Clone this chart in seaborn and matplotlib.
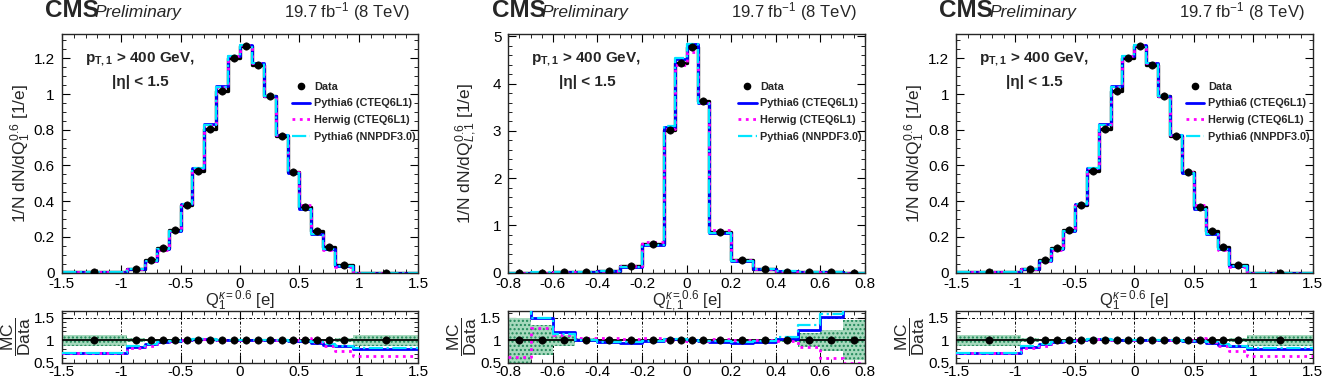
import numpy as np
import pandas as pd
import matplotlib
matplotlib.use("Agg")
import matplotlib.pyplot as plt
from matplotlib.lines import Line2D
from matplotlib.ticker import MultipleLocator, FuncFormatter
import seaborn as sns

# leading-jet charge Q_1 (left and right panels show the same distribution)
edges_q1 = [-1.5, -0.95, -0.8, -0.7, -0.6, -0.5, -0.4, -0.3, -0.2, -0.1, 0.0,
            0.1, 0.2, 0.3, 0.4, 0.5, 0.6, 0.7, 0.8, 0.95, 1.5]
data_q1 = [0.002, 0.022, 0.073, 0.138, 0.237, 0.381, 0.569, 0.804, 1.019, 1.204,
           1.267, 1.161, 0.987, 0.767, 0.564, 0.366, 0.231, 0.144, 0.041, 0.001]
pythia_q1 = [0.0015, 0.019, 0.067, 0.131, 0.233, 0.386, 0.586, 0.830, 1.043, 1.213,
             1.275, 1.176, 0.990, 0.769, 0.558, 0.355, 0.215, 0.130, 0.035, 0.0008]
herwig_q1 = [0.0015, 0.018, 0.064, 0.128, 0.236, 0.388, 0.584, 0.826, 1.040, 1.210,
             1.272, 1.172, 0.988, 0.772, 0.566, 0.380, 0.222, 0.125, 0.031, 0.0006]
nnpdf_q1 = [0.0014, 0.019, 0.066, 0.130, 0.232, 0.385, 0.585, 0.828, 1.041, 1.212,
            1.274, 1.175, 0.990, 0.770, 0.560, 0.357, 0.217, 0.131, 0.036, 0.0008]
ratio_pythia_q1 = [0.72, 0.85, 0.92, 0.96, 0.98, 1.0, 1.02, 1.02, 1.01, 1.0,
                   1.0, 1.0, 1.0, 1.0, 0.99, 0.98, 0.94, 0.90, 0.87, 0.81]
ratio_herwig_q1 = [0.72, 0.83, 0.88, 0.95, 0.99, 1.01, 1.02, 1.02, 1.01, 1.0,
                   1.0, 1.0, 1.0, 1.0, 1.0, 1.04, 0.96, 0.87, 0.76, 0.64]
ratio_nnpdf_q1 = [0.71, 0.86, 0.92, 0.96, 0.98, 1.0, 1.02, 1.02, 1.01, 1.0,
                  1.0, 1.0, 1.0, 1.0, 0.99, 0.98, 0.95, 0.91, 0.88, 0.83]
band_q1 = [0.12, 0.05, 0.03, 0.02, 0.015, 0.01, 0.01, 0.01, 0.01, 0.01,
           0.01, 0.01, 0.01, 0.01, 0.01, 0.015, 0.02, 0.03, 0.05, 0.12]

# leading-jet longitudinal charge Q_L,1 (middle panel)
edges_ql1 = [-0.8, -0.7, -0.6, -0.5, -0.4, -0.3, -0.2, -0.1, -0.05, 0.0,
             0.05, 0.1, 0.2, 0.3, 0.4, 0.5, 0.6, 0.7, 0.8]
data_ql1 = [0.002, 0.003, 0.005, 0.012, 0.03, 0.14, 0.60, 3.02, 4.43,
            4.78, 3.63, 0.87, 0.27, 0.085, 0.025, 0.01, 0.005, 0.002]
pythia_ql1 = [0.004, 0.0045, 0.006, 0.012, 0.029, 0.13, 0.59, 3.09, 4.53,
              4.84, 3.60, 0.84, 0.25, 0.081, 0.026, 0.012, 0.0076, 0.004]
herwig_ql1 = [0.0013, 0.0038, 0.0056, 0.0125, 0.031, 0.143, 0.64, 3.05, 4.39,
              4.66, 3.60, 0.90, 0.275, 0.086, 0.025, 0.0084, 0.003, 0.001]
nnpdf_ql1 = [0.004, 0.0046, 0.0065, 0.012, 0.029, 0.13, 0.59, 3.10, 4.54,
             4.83, 3.59, 0.84, 0.25, 0.082, 0.027, 0.013, 0.0079, 0.004]
ratio_pythia_ql1 = [1.9, 1.49, 1.18, 1.0, 0.95, 0.94, 0.98, 1.02, 1.02,
                    1.01, 0.99, 0.96, 0.93, 0.95, 1.02, 1.23, 1.51, 1.9]
ratio_herwig_ql1 = [0.63, 1.26, 1.11, 1.04, 1.04, 1.02, 1.05, 1.01, 0.99,
                    0.98, 0.99, 1.03, 1.0, 1.0, 0.99, 0.84, 0.61, 0.49]
ratio_nnpdf_ql1 = [1.9, 1.5, 1.14, 1.0, 0.96, 0.96, 0.98, 1.02, 1.02,
                   1.01, 0.99, 0.97, 0.95, 0.97, 1.07, 1.33, 1.57, 1.9]
band_ql1 = [0.5, 0.33, 0.12, 0.05, 0.03, 0.02, 0.02, 0.01, 0.01,
            0.01, 0.01, 0.015, 0.02, 0.03, 0.05, 0.15, 0.23, 0.45]

legend_labels = ["Data", "Pythia6 (CTEQ6L1)", "Herwig (CTEQ6L1)", "Pythia6 (NNPDF3.0)"]
mc_styles = [("#0000ff", "-", 2.0), ("#ff00ff", ":", 2.0), ("#00e5ff", "-.", 1.6)]

sns.set_style("ticks")
plt.rcParams["font.family"] = ["Liberation Sans", "DejaVu Sans"]
plt.rcParams["mathtext.fontset"] = "custom"
plt.rcParams["mathtext.rm"] = "Liberation Sans"
plt.rcParams["mathtext.it"] = "Liberation Sans:italic"
plt.rcParams["mathtext.bf"] = "Liberation Sans:bold"
plt.rcParams["hatch.linewidth"] = 1.0
plt.rcParams["axes.linewidth"] = 1.0
for a in ("xtick", "ytick"):
    plt.rcParams[a + ".direction"] = "in"
    plt.rcParams[a + ".major.size"] = 6
    plt.rcParams[a + ".minor.size"] = 3
    plt.rcParams[a + ".color"] = "black"
plt.rcParams["xtick.top"] = True
plt.rcParams["ytick.right"] = True

fmt = FuncFormatter(lambda v, p: "%g" % round(v, 3))


def step_hist(ax, centers, values, edges, **kws):
    df = pd.DataFrame({"x": centers, "w": values})
    sns.histplot(data=df, x="x", weights="w", bins=list(edges), element="step",
                 fill=False, ax=ax, **kws)


def draw_panel(fig, left, edges, data, mcs, ratios, band, xlabel, ylabel,
               ymax, xmaj, xmin_, ymaj, ymin_):
    w = 0.2697
    ax = fig.add_axes([left, 0.2747, w, 0.635])
    rax = fig.add_axes([left, 0.0354, w, 0.138])

    edges = np.array(edges)
    centers = (edges[:-1] + edges[1:]) / 2
    widths = np.diff(edges)

    # main panel: data histogram + MC histograms
    step_hist(ax, centers, data, edges, color="black", linewidth=2.4)
    for vals, (c, ls, lw) in zip(mcs, mc_styles):
        step_hist(ax, centers, vals, edges, color=c, linestyle=ls, linewidth=lw)
    sns.scatterplot(x=centers, y=data, color="black", s=28, edgecolor="black",
                    zorder=6, ax=ax)

    ax.set_xlim(edges[0], edges[-1])
    ax.set_ylim(0, ymax)
    ax.xaxis.set_major_locator(MultipleLocator(xmaj))
    ax.xaxis.set_minor_locator(MultipleLocator(xmin_))
    ax.yaxis.set_major_locator(MultipleLocator(ymaj))
    ax.yaxis.set_minor_locator(MultipleLocator(ymin_))
    ax.xaxis.set_major_formatter(fmt)
    ax.yaxis.set_major_formatter(fmt)
    ax.tick_params(labelsize=11, pad=3)
    ax.tick_params(axis="y", pad=5)
    ax.set_xlabel(xlabel, fontsize=12)
    ax.xaxis.set_label_coords(0.5, -0.065)
    ax.set_ylabel(ylabel, fontsize=12.5)
    ax.yaxis.set_label_coords(-0.082, 0.5)

    handles = [Line2D([], [], marker="o", color="black", ls="none", ms=4.5)]
    handles += [Line2D([], [], color=c, ls=ls, lw=lw) for c, ls, lw in mc_styles]
    ax.legend(handles, legend_labels, loc="upper left", bbox_to_anchor=(0.645, 0.80),
              frameon=False, prop={"weight": "bold", "size": 7.8},
              handlelength=1.7, handletextpad=0.35, labelspacing=0.62,
              borderaxespad=0, borderpad=0)

    ax.text(0.065, 0.884, r"p$_{\mathbf{T,1}}$ > 400 GeV,", transform=ax.transAxes,
            fontsize=11, fontweight="bold", va="baseline")
    ax.text(0.141, 0.782, "|η| < 1.5", transform=ax.transAxes,
            fontsize=11, fontweight="bold", va="baseline")
    ax.text(-0.047, 1.071, "CMS", transform=ax.transAxes, fontsize=17.5,
            fontweight="bold", va="baseline")
    ax.text(0.093, 1.071, "Preliminary", transform=ax.transAxes, fontsize=12.5,
            style="italic", va="baseline")
    ax.text(0.977, 1.071, r"19.7 fb$^{-1}$ (8 TeV)", transform=ax.transAxes,
            fontsize=12, ha="right", va="baseline")

    # ratio panel
    rax.bar(centers, 2 * np.array(band), bottom=1 - np.array(band), width=widths,
            facecolor="#a6d9bd", edgecolor="#21895a", hatch="....", linewidth=0,
            zorder=2)
    rax.axhline(1, color="black", lw=1.3, zorder=3)
    for vals, (c, ls, lw) in zip(ratios, mc_styles):
        step_hist(rax, centers, vals, edges, color=c, linestyle=ls, linewidth=lw,
                  zorder=4)
    sns.scatterplot(x=centers, y=np.ones(len(centers)), color="black", s=28,
                    edgecolor="black", zorder=6, ax=rax)
    rax.set_xlim(edges[0], edges[-1])
    rax.set_ylim(0.5, 1.65)
    rax.xaxis.set_major_locator(MultipleLocator(xmaj))
    rax.xaxis.set_minor_locator(MultipleLocator(xmin_))
    rax.yaxis.set_major_locator(MultipleLocator(0.5))
    rax.yaxis.set_minor_locator(MultipleLocator(0.1))
    rax.xaxis.set_major_formatter(fmt)
    rax.yaxis.set_major_formatter(fmt)
    rax.tick_params(labelsize=11, pad=2)
    rax.tick_params(axis="y", pad=5)
    rax.grid(True, which="major", color="black", linestyle=(0, (3, 2, 1, 2)),
             linewidth=0.7)
    rax.set_axisbelow(True)
    rax.set_xlabel("")
    rax.set_ylabel(r"$\dfrac{\mathrm{MC}}{\mathrm{Data}}$", fontsize=12.5)
    rax.yaxis.set_label_coords(-0.082, 0.5)


fig = plt.figure(figsize=(13.22, 3.76), dpi=100)

draw_panel(fig, 0.0467, edges_q1, data_q1, [pythia_q1, herwig_q1, nnpdf_q1],
           [ratio_pythia_q1, ratio_herwig_q1, ratio_nnpdf_q1], band_q1,
           r"Q$_{1}^{\kappa=0.6}$ [e]", r"1/N dN/dQ$_{1}^{0.6}$ [1/e]",
           1.336, 0.5, 0.1, 0.2, 0.05)
draw_panel(fig, 0.3845, edges_ql1, data_ql1, [pythia_ql1, herwig_ql1, nnpdf_ql1],
           [ratio_pythia_ql1, ratio_herwig_ql1, ratio_nnpdf_ql1], band_ql1,
           r"Q$_{L,1}^{\kappa=0.6}$ [e]", r"1/N dN/dQ$_{L,1}^{0.6}$ [1/e]",
           5.05, 0.2, 0.05, 1, 0.2)
draw_panel(fig, 0.7232, edges_q1, data_q1, [pythia_q1, herwig_q1, nnpdf_q1],
           [ratio_pythia_q1, ratio_herwig_q1, ratio_nnpdf_q1], band_q1,
           r"Q$_{1}^{\kappa=0.6}$ [e]", r"1/N dN/dQ$_{1}^{0.6}$ [1/e]",
           1.336, 0.5, 0.1, 0.2, 0.05)

fig.savefig("out.png", dpi=100)
